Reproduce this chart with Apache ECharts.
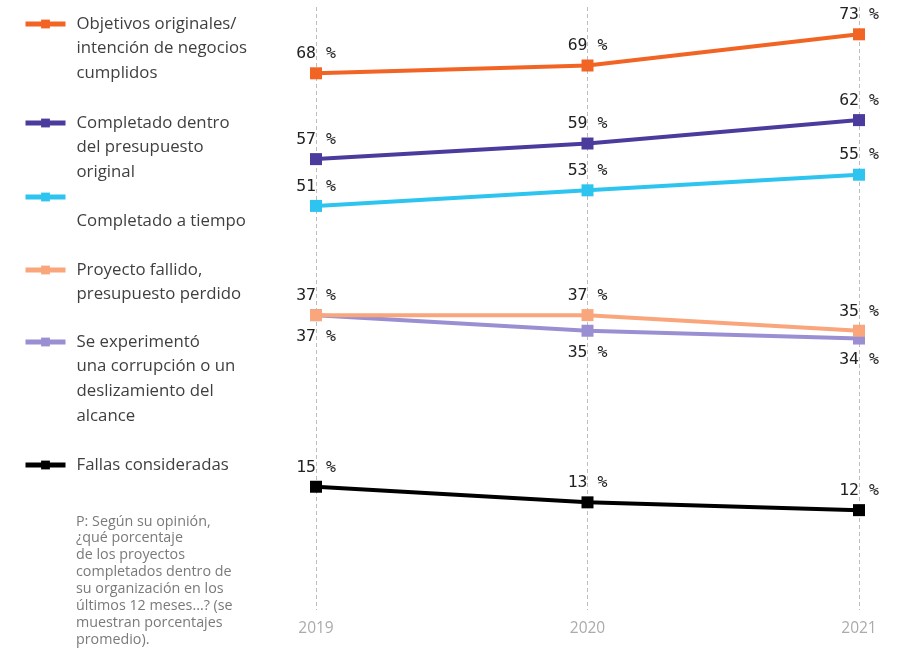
<!DOCTYPE html>
<html><head><meta charset="utf-8">
<script src="https://cdn.jsdelivr.net/npm/echarts@6/dist/echarts.min.js"></script>
<style>html,body{margin:0;padding:0;background:#fff}#c{width:902px;height:651px}</style>
</head><body><div id="c"></div>
<script>
// ---- data ----
const years = ['2019', '2020', '2021'];
const nameObjetivos = 'Objetivos originales/ intención de negocios cumplidos';
const namePresupuesto = 'Completado dentro del presupuesto original';
const nameTiempo = 'Completado a tiempo';
const nameFallido = 'Proyecto fallido, presupuesto perdido';
const nameCorrupcion = 'Se experimentó una corrupción o un deslizamiento del alcance';
const nameFallas = 'Fallas consideradas';
const objetivos = [68, 69, 73];
const presupuesto = [57, 59, 62];
const tiempo = [51, 53, 55];
const fallido = [37, 37, 35];
const corrupcion = [37, 35, 34];
const fallas = [15, 13, 12];
const legendObjetivos = ['Objetivos originales/', 'intención de negocios', 'cumplidos'];
const legendPresupuesto = ['Completado dentro', 'del presupuesto', 'original'];
const legendTiempo = ['', 'Completado a tiempo'];
const legendFallido = ['Proyecto fallido,', 'presupuesto perdido'];
const legendCorrupcion = ['Se experimentó', 'una corrupción o un', 'deslizamiento del', 'alcance'];
const legendFallas = ['Fallas consideradas'];
const footnoteLines = ['P: Según su opinión,', '¿qué porcentaje', 'de los proyectos', 'completados dentro de', 'su organización en los', 'últimos 12 meses...? (se', 'muestran porcentajes', 'promedio).'];

// ---- styles ----
const LH = 24.6;
const legendFont = { fontFamily: 'Open Sans', fontSize: 16.8, color: '#3f3f3f', lineHeight: LH };
function legendFor(name, lines, iconY) {
  // prepend empty lines so the icon sits beside the first line
  const all = Array(lines.length - 1).fill('').concat(lines);
  const m = all.length;
  return {
    data: [name], orient: 'vertical', left: 23, top: iconY - m * LH / 2, padding: 0,
    itemWidth: 40, itemHeight: 11, selectedMode: false,
    lineStyle: { width: 5 },
    formatter: () => all.join('\n'),
    textStyle: Object.assign({ padding: [0, 0, 0, 6] }, legendFont)
  };
}
const labelFont = { fontFamily: 'DejaVu Sans Mono', fontSize: 16.5, color: '#222' };
function mkSeries(name, data, color, pos) {
  return {
    name, type: 'line', data, symbol: 'rect', symbolSize: 12, showAllSymbol: true,
    lineStyle: { color, width: 4 }, itemStyle: { color },
    label: Object.assign({ show: true, position: pos, distance: pos === 'top' ? 5 : 7, formatter: '{c} %' }, labelFont),
    emphasis: { disabled: true }, animation: false, z: 3
  };
}

const chart = echarts.init(document.getElementById('c'), null, { renderer: 'canvas' });
chart.setOption({
  backgroundColor: '#fff',
  animation: false,
  title: {
    text: footnoteLines.join('\n'), left: 76, top: 513, padding: 0,
    textStyle: { fontFamily: 'Open Sans', fontSize: 14.3, fontWeight: 'normal', color: '#7a7a7a', lineHeight: 16.9 }
  },
  legend: [
    legendFor(nameObjetivos, legendObjetivos, 24),
    legendFor(namePresupuesto, legendPresupuesto, 123),
    legendFor(nameTiempo, legendTiempo, 197),
    legendFor(nameFallido, legendFallido, 270),
    legendFor(nameCorrupcion, legendCorrupcion, 342),
    legendFor(nameFallas, legendFallas, 465)
  ],
  grid: { left: 316, right: 43, top: 7, height: 603 },
  xAxis: {
    type: 'category', data: years, boundaryGap: false,
    axisLine: { show: false }, axisTick: { show: false },
    axisLabel: { color: '#ababab', fontFamily: 'Open Sans', fontSize: 15.5, margin: 11 },
    splitLine: { show: true, lineStyle: { color: '#bdbdbd', type: [4, 3], width: 1 } }
  },
  yAxis: {
    type: 'value', min: -0.8, max: 76.5, show: false, splitLine: { show: false }
  },
  series: [
    mkSeries(nameObjetivos, objetivos, '#f26424', 'top'),
    mkSeries(namePresupuesto, presupuesto, '#4b3b9d', 'top'),
    mkSeries(nameTiempo, tiempo, '#2ec4f0', 'top'),
    mkSeries(nameCorrupcion, corrupcion, '#9a8fd2', 'bottom'),
    mkSeries(nameFallido, fallido, '#f9a67c', 'top'),
    mkSeries(nameFallas, fallas, '#000000', 'top')
  ]
});
</script>
</body></html>
